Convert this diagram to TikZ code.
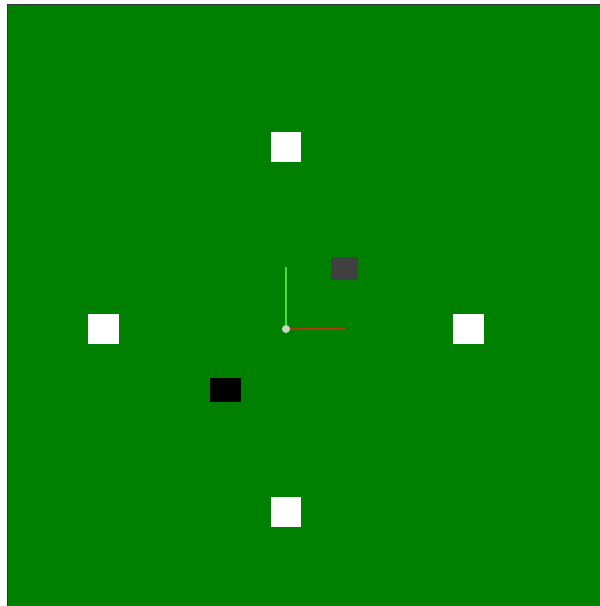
\documentclass[tikz,border=0pt]{standalone}
\begin{document}
\begin{tikzpicture}[x=1pt,y=-1pt,
  whitebox/.style={fill=white,draw=none},
  axisline/.style={line width=1.3pt}]
\definecolor{field}{HTML}{008000}
\definecolor{darkbox}{HTML}{404040}
\definecolor{axisgreen}{HTML}{44DD44}
\definecolor{axisred}{HTML}{A83A12}
\definecolor{origin}{HTML}{C8D8C0}
\useasboundingbox (0,0) rectangle (600,606);
\fill[white] (0,0) rectangle (600,606);
\fill[field] (7,4) rectangle (600,606);
\draw[line width=1pt,color=black!80] (7.5,606) -- (7.5,4.5) -- (600,4.5);
% white squares
\fill[whitebox] (271,132) rectangle (301,162);
\fill[whitebox] (88,314) rectangle (119,344);
\fill[whitebox] (453,314) rectangle (484,344);
\fill[whitebox] (271,497) rectangle (301,527);
% black rectangle
\fill[black] (210,378) rectangle (241,402);
% dark gray square
\fill[darkbox] (331,257) rectangle (358,280);
% axes
\coordinate (o) at (286,329);
\coordinate (ytip) at (286,267);
\coordinate (xtip) at (346,329);
\draw[axisline,axisgreen] (o) -- (ytip);
\draw[axisline,axisred] (o) -- (xtip);
\fill[origin] (o) circle (4);
\end{tikzpicture}
\end{document}
